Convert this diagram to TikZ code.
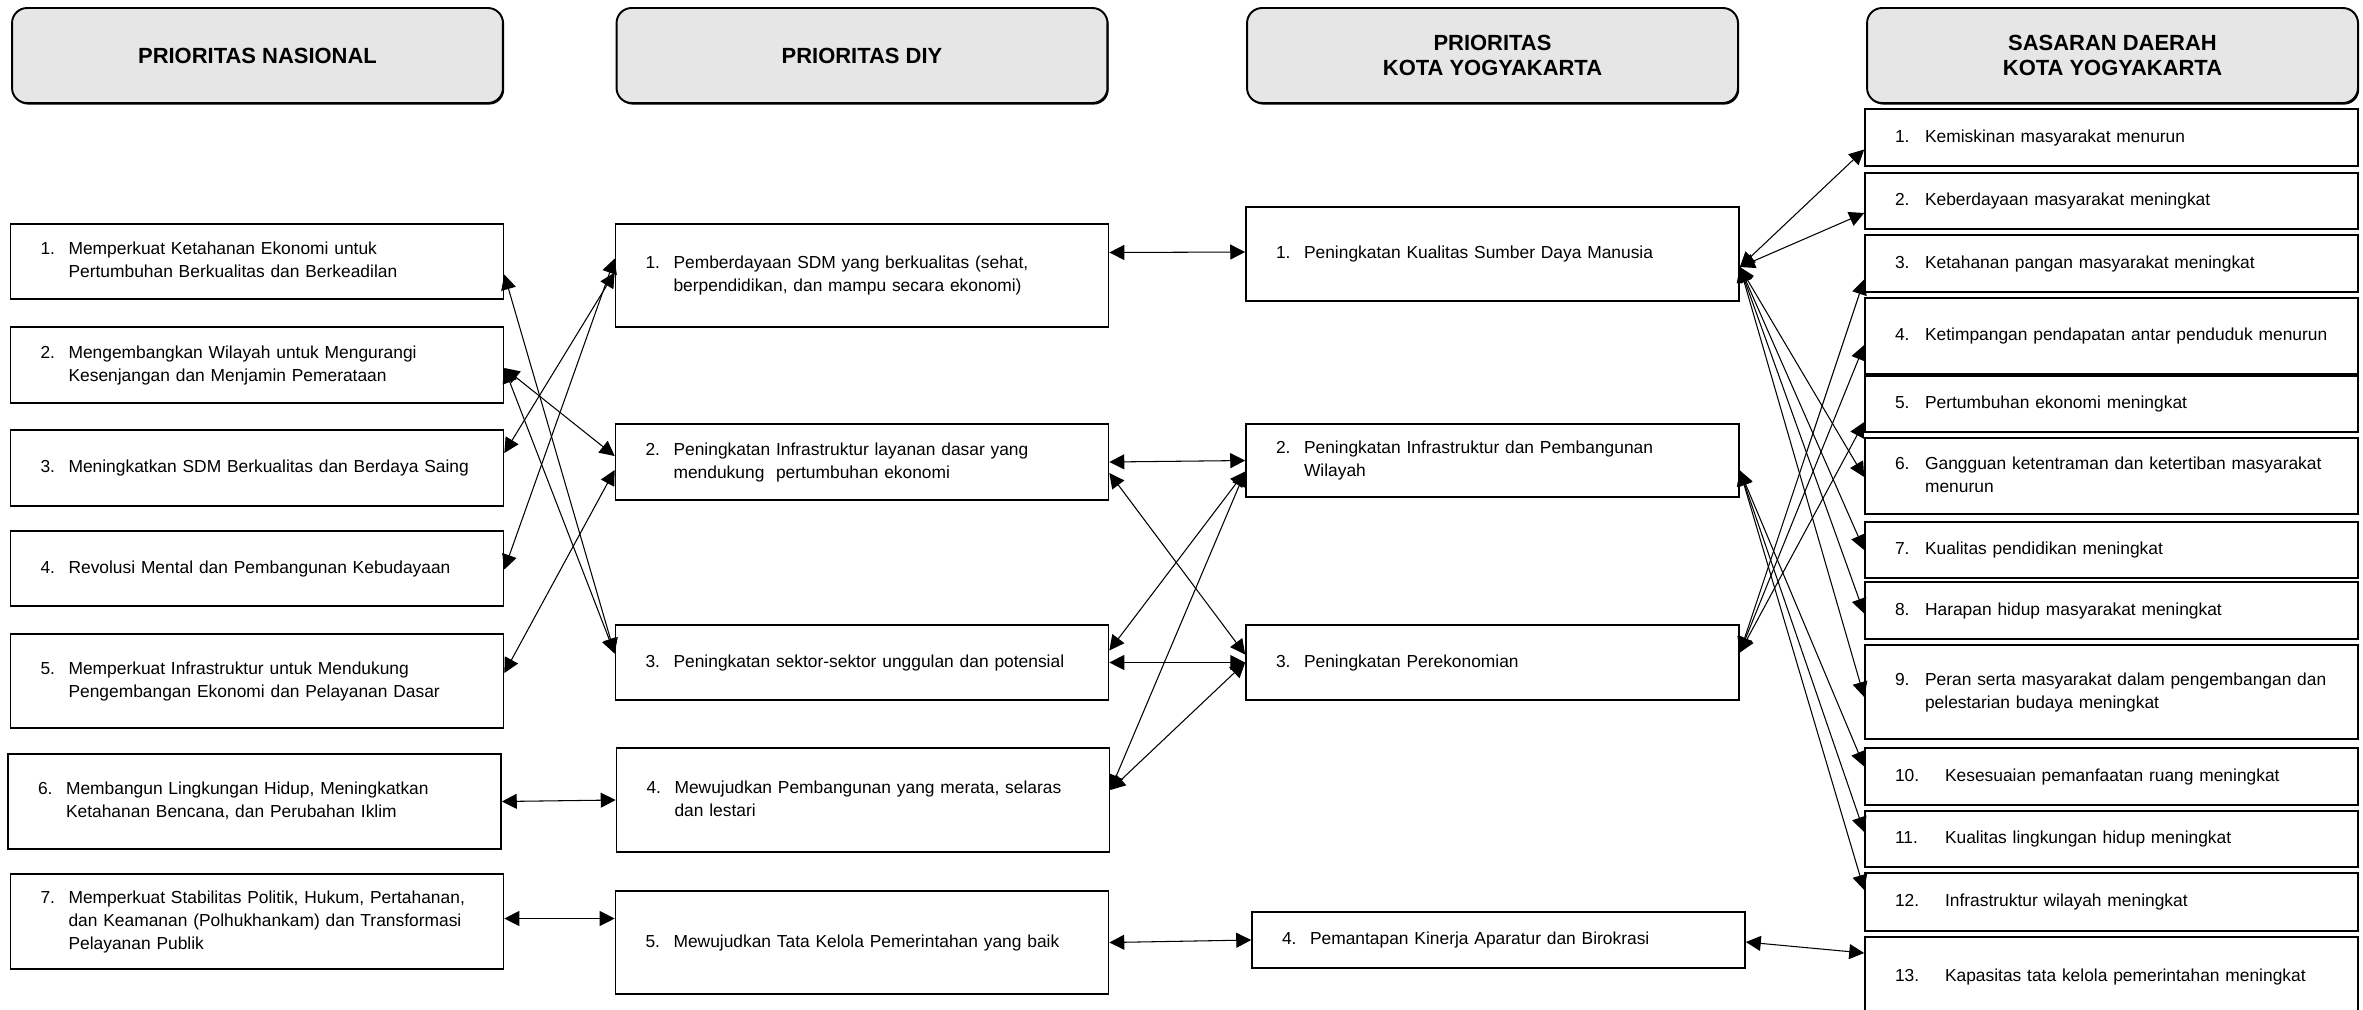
\documentclass[tikz,border=0pt]{standalone}
\usepackage{fontspec}
\setmainfont{Liberation Sans}
\usetikzlibrary{arrows.meta,calc,shadows}
\definecolor{abu}{RGB}{230,230,230}
\newcommand{\butir}[3][0.56cm]{\makebox[#1][l]{#2}\begin{tabular}[t]{@{}l@{}}#3\end{tabular}}
\tikzset{every node/.style={font=\fontsize{9.9}{13.1}\selectfont, inner sep=0pt},
  judul/.style={draw, line width=1.1pt, rounded corners=0.3cm, fill=abu, minimum width=9.82cm, minimum height=1.9cm,
    align=center, font=\fontsize{12.5}{14.2}\selectfont\bfseries,
    drop shadow={shadow xshift=0.7pt, shadow yshift=-0.9pt, fill=black, opacity=1}},
  kotak/.style={draw, line width=1pt, fill=white, text width=8.66cm, inner xsep=0.6cm, align=left},
  panah/.style={<->, >={Triangle[length=8.5pt,width=8.5pt]}, line width=0.6pt}}

\begin{document}
\begin{tikzpicture}[x=0.02cm, y=-0.02cm]
  \useasboundingbox (0,0) rectangle (2363,1009);
  \node[judul] (H1) at ( 257.5, 55.5) {PRIORITAS NASIONAL};
  \node[judul] (H2) at ( 862.0, 55.5) {PRIORITAS DIY};
  \node[judul] (H3) at (1492.5, 55.5) {PRIORITAS\\KOTA YOGYAKARTA};
  \node[judul] (H4) at (2112.5, 55.5) {SASARAN DAERAH\\KOTA YOGYAKARTA};

  \node[kotak, minimum height=1.50cm] (N1) at ( 257.0, 261.5) {\butir{1.}{Memperkuat Ketahanan Ekonomi untuk\\Pertumbuhan Berkualitas dan Berkeadilan}};
  \node[kotak, minimum height=1.52cm] (N2) at ( 257.0, 365.0) {\butir{2.}{Mengembangkan Wilayah untuk Mengurangi\\Kesenjangan dan Menjamin Pemerataan}};
  \node[kotak, minimum height=1.52cm] (N3) at ( 257.0, 468.0) {\butir{3.}{Meningkatkan SDM Berkualitas dan Berdaya Saing}};
  \node[kotak, minimum height=1.50cm] (N4) at ( 257.0, 568.5) {\butir{4.}{Revolusi Mental dan Pembangunan Kebudayaan}};
  \node[kotak, minimum height=1.88cm] (N5) at ( 257.0, 681.0) {\butir{5.}{Memperkuat Infrastruktur untuk Mendukung\\Pengembangan Ekonomi dan Pelayanan Dasar}};
  \node[kotak, minimum height=1.90cm] (N6) at ( 254.5, 801.5) {\butir{6.}{Membangun Lingkungan Hidup, Meningkatkan\\Ketahanan Bencana, dan Perubahan Iklim}};
  \node[kotak, minimum height=1.90cm] (N7) at ( 257.0, 921.5) {\butir{7.}{Memperkuat Stabilitas Politik, Hukum, Pertahanan,\\dan Keamanan (Polhukhankam) dan Transformasi\\Pelayanan Publik}};

  \node[kotak, minimum height=2.06cm] (D1) at ( 862.0, 275.5) {\butir{1.}{Pemberdayaan SDM yang berkualitas (sehat,\\berpendidikan, dan mampu secara ekonomi)}};
  \node[kotak, minimum height=1.52cm] (D2) at ( 862.0, 462.0) {\butir{2.}{Peningkatan Infrastruktur layanan dasar yang\\mendukung\ \ pertumbuhan ekonomi}};
  \node[kotak, minimum height=1.50cm] (D3) at ( 862.0, 662.5) {\butir{3.}{Peningkatan sektor-sektor unggulan dan potensial}};
  \node[kotak, minimum height=2.08cm] (D4) at ( 863.0, 800.0) {\butir{4.}{Mewujudkan Pembangunan yang merata, selaras\\dan lestari}};
  \node[kotak, minimum height=2.06cm] (D5) at ( 862.0, 942.5) {\butir{5.}{Mewujudkan Tata Kelola Pemerintahan yang baik}};

  \node[kotak, minimum height=1.88cm] (K1) at (1492.5, 254.0) {\butir{1.}{Peningkatan Kualitas Sumber Daya Manusia}};
  \node[kotak, minimum height=1.46cm] (K2) at (1492.5, 460.5) {\butir{2.}{Peningkatan Infrastruktur dan Pembangunan\\Wilayah}};
  \node[kotak, minimum height=1.50cm] (K3) at (1492.5, 662.5) {\butir{3.}{Peningkatan Perekonomian}};
  \node[kotak, minimum height=1.12cm] (K4) at (1498.5, 940.0) {\butir{4.}{Pemantapan Kinerja Aparatur dan Birokrasi}};

  \node[kotak, minimum height=1.14cm] (S1)  at (2111.5, 137.5) {\butir[0.6cm]{1.}{Kemiskinan masyarakat menurun}};
  \node[kotak, minimum height=1.12cm] (S2)  at (2111.5, 201.0) {\butir[0.6cm]{2.}{Keberdayaan masyarakat meningkat}};
  \node[kotak, minimum height=1.14cm] (S3)  at (2111.5, 263.5) {\butir[0.6cm]{3.}{Ketahanan pangan masyarakat meningkat}};
  \node[kotak, minimum height=1.52cm] (S4)  at (2111.5, 336.0) {\butir[0.6cm]{4.}{Ketimpangan pendapatan antar penduduk menurun}};
  \node[kotak, minimum height=1.12cm] (S5)  at (2111.5, 404.0) {\butir[0.6cm]{5.}{Pertumbuhan ekonomi meningkat}};
  \node[kotak, minimum height=1.52cm] (S6)  at (2111.5, 476.0) {\butir[0.6cm]{6.}{Gangguan ketentraman dan ketertiban masyarakat\\menurun}};
  \node[kotak, minimum height=1.12cm] (S7)  at (2111.5, 550.0) {\butir[0.6cm]{7.}{Kualitas pendidikan meningkat}};
  \node[kotak, minimum height=1.14cm] (S8)  at (2111.5, 610.5) {\butir[0.6cm]{8.}{Harapan hidup masyarakat meningkat}};
  \node[kotak, minimum height=1.88cm] (S9)  at (2111.5, 692.0) {\butir[0.6cm]{9.}{Peran serta masyarakat dalam pengembangan dan\\pelestarian budaya meningkat}};
  \node[kotak, minimum height=1.14cm] (S10) at (2111.5, 776.5) {\butir[1cm]{10.}{Kesesuaian pemanfaatan ruang meningkat}};
  \node[kotak, minimum height=1.12cm] (S11) at (2111.5, 839.0) {\butir[1cm]{11.}{Kualitas lingkungan hidup meningkat}};
  \node[kotak, minimum height=1.16cm] (S12) at (2111.5, 902.0) {\butir[1cm]{12.}{Infrastruktur wilayah meningkat}};
  \node[kotak, minimum height=1.60cm] (S13) at (2111.5, 977.0) {\butir[1cm]{13.}{Kapasitas tata kelola pemerintahan meningkat}};

  % nasional - diy
  \draw[panah] ($(N1.east)+(0, 13)$) -- ($(D3.west)+(0, -9)$);
  \draw[panah] ($(N2.east)+(0,  3)$) -- ($(D2.west)+(0, -6)$);
  \draw[panah] ($(N2.east)+(0,  3)$) -- ($(D3.west)+(0, -9)$);
  \draw[panah] ($(N3.east)+(0,-15)$) -- ($(D1.west)+(0, -3)$);
  \draw[panah] ($(N4.east)+(0,  1)$) -- ($(D1.west)+(0,-17)$);
  \draw[panah] ($(N5.east)+(0, -8)$) -- ($(D2.west)+(0,  8)$);
  \draw[panah] (N6.east) -- (D4.west);
  \draw[panah] ($(N7.east)+(0, -3)$) -- ($(D5.west)+(0,-24)$);

  % diy - kota
  \draw[panah] ($(D1.east)+(0,-23)$) -- ($(K1.west)+(0, -2)$);
  \draw[panah] (D2.east) -- (K2.west);
  \draw[panah] ($(D2.east)+(0, 11)$) -- ($(K3.west)+(0, -8)$);
  \draw[panah] ($(D3.east)+(0,-12)$) -- ($(K2.west)+(0, 11)$);
  \draw[panah] (D3.east) -- (K3.west);
  \draw[panah] ($(D4.east)+(0,-10)$) -- ($(K2.west)+(0, 11)$);
  \draw[panah] ($(D4.east)+(0,-10)$) -- (K3.west);
  \draw[panah] (D5.east) -- (K4.west);

  % kota - sasaran
  \draw[panah] ($(K1.east)+(0, 13)$) -- ($(S1.west)+(0, 12)$);
  \draw[panah] ($(K1.east)+(0, 13)$) -- ($(S2.west)+(0, 12)$);
  \draw[panah] ($(K1.east)+(0, 13)$) -- ($(S6.west)+(0,  1)$);
  \draw[panah] ($(K1.east)+(0, 13)$) -- (S7.west);
  \draw[panah] ($(K1.east)+(0, 13)$) -- ($(S8.west)+(0,  3)$);
  \draw[panah] ($(K1.east)+(0, 13)$) -- ($(S9.west)+(0,  5)$);
  \draw[panah] ($(K2.east)+(0, 10)$) -- ($(S10.west)+(0,-10)$);
  \draw[panah] ($(K2.east)+(0, 10)$) -- ($(S11.west)+(0, -7)$);
  \draw[panah] ($(K2.east)+(0, 10)$) -- ($(S12.west)+(0,-12)$);
  \draw[panah] ($(K3.east)+(0,-10)$) -- ($(S3.west)+(0, 16)$);
  \draw[panah] ($(K3.east)+(0,-10)$) -- ($(S4.west)+(0,  9)$);
  \draw[panah] ($(K3.east)+(0,-10)$) -- ($(S5.west)+(0, 18)$);
  \draw[panah] ($(K4.east)+(0,  2)$) -- ($(S13.west)+(0,-24)$);
\end{tikzpicture}
\end{document}
